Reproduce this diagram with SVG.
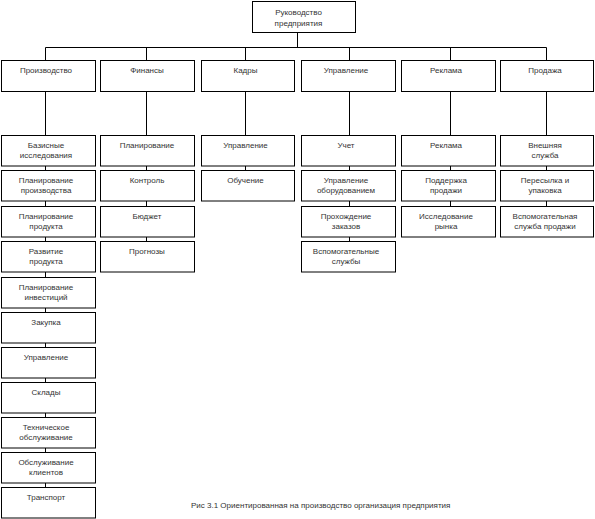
<svg xmlns="http://www.w3.org/2000/svg" width="595" height="519" viewBox="0 0 595 519">
<style>
rect{fill:#fff;stroke:#000;stroke-width:1}
line{stroke:#000;stroke-width:1}
text{font-family:"Liberation Sans",Arial,sans-serif;font-size:8px;fill:#333;text-anchor:middle}
.cap{text-anchor:start}
</style>
<rect x="0" y="0" width="595" height="519" style="stroke:none"/>
<g id="connectors">
<line x1="297.5" y1="32.5" x2="297.5" y2="47.5"/>
<line x1="45.5" y1="47.5" x2="546.5" y2="47.5"/>
<line x1="45.5" y1="47.5" x2="45.5" y2="60.5"/>
<line x1="146.5" y1="47.5" x2="146.5" y2="60.5"/>
<line x1="245.5" y1="47.5" x2="245.5" y2="60.5"/>
<line x1="349.5" y1="47.5" x2="349.5" y2="60.5"/>
<line x1="450.5" y1="47.5" x2="450.5" y2="60.5"/>
<line x1="546.5" y1="47.5" x2="546.5" y2="60.5"/>
<line x1="45.5" y1="91.5" x2="45.5" y2="487.5"/>
<line x1="146.5" y1="91.5" x2="146.5" y2="241.5"/>
<line x1="245.5" y1="91.5" x2="245.5" y2="170.5"/>
<line x1="349.5" y1="91.5" x2="349.5" y2="241.5"/>
<line x1="450.5" y1="91.5" x2="450.5" y2="206.5"/>
<line x1="546.5" y1="91.5" x2="546.5" y2="206.5"/>
</g>
<g id="head"><rect x="252.5" y="1.5" width="103" height="31"/><text x="298.5" y="14.5">Руководство</text><text x="298.5" y="25.5">предприятия</text></g>
<g id="c1"><rect x="1.5" y="60.5" width="94" height="31"/><text x="46" y="72.5">Производство</text></g>
<g id="c2"><rect x="100.5" y="60.5" width="94" height="31"/><text x="147" y="72.5">Финансы</text></g>
<g id="c3"><rect x="201.5" y="60.5" width="93" height="31"/><text x="245.5" y="72.5">Кадры</text></g>
<g id="c4"><rect x="301.5" y="60.5" width="94" height="31"/><text x="346" y="72.5">Управление</text></g>
<g id="c5"><rect x="401.5" y="60.5" width="94" height="31"/><text x="446" y="72.5">Реклама</text></g>
<g id="c6"><rect x="500.5" y="60.5" width="93" height="31"/><text x="545" y="72.5">Продажа</text></g>

<g id="p1"><rect x="1.5" y="135.5" width="94" height="30.5"/><text x="46" y="147.5">Базисные</text><text x="46" y="157.5">исследования</text></g>
<g id="p2"><rect x="1.5" y="170.5" width="94" height="30.5"/><text x="46" y="182.5">Планирование</text><text x="46" y="192.5">производства</text></g>
<g id="p3"><rect x="1.5" y="206.5" width="94" height="30.5"/><text x="46" y="218.5">Планирование</text><text x="46" y="228.5">продукта</text></g>
<g id="p4"><rect x="1.5" y="241.5" width="94" height="30.5"/><text x="46" y="253.5">Развитие</text><text x="46" y="263.5">продукта</text></g>
<g id="p5"><rect x="1.5" y="277.5" width="94" height="30.5"/><text x="46" y="289.5">Планирование</text><text x="46" y="299.5">инвестиций</text></g>
<g id="p6"><rect x="1.5" y="312.5" width="94" height="30.5"/><text x="46" y="324.5">Закупка</text></g>
<g id="p7"><rect x="1.5" y="347.5" width="94" height="30.5"/><text x="46" y="359.5">Управление</text></g>
<g id="p8"><rect x="1.5" y="382.5" width="94" height="30.5"/><text x="46" y="394.5">Склады</text></g>
<g id="p9"><rect x="1.5" y="417.5" width="94" height="30.5"/><text x="46" y="429.5">Техническое</text><text x="46" y="439.5">обслуживание</text></g>
<g id="p10"><rect x="1.5" y="452.5" width="94" height="30.5"/><text x="46" y="464.5">Обслуживание</text><text x="46" y="474.5">клиентов</text></g>
<g id="p11"><rect x="1.5" y="487.5" width="94" height="30.5"/><text x="46" y="499.5">Транспорт</text></g>

<g id="f1"><rect x="100.5" y="135.5" width="94" height="30.5"/><text x="147" y="147.5">Планирование</text></g>
<g id="f2"><rect x="100.5" y="170.5" width="94" height="30.5"/><text x="147" y="182.5">Контроль</text></g>
<g id="f3"><rect x="100.5" y="206.5" width="94" height="30.5"/><text x="147" y="218.5">Бюджет</text></g>
<g id="f4"><rect x="100.5" y="241.5" width="94" height="30.5"/><text x="147" y="253.5">Прогнозы</text></g>

<g id="k1"><rect x="201.5" y="135.5" width="93" height="30.5"/><text x="245.5" y="147.5">Управление</text></g>
<g id="k2"><rect x="201.5" y="170.5" width="93" height="30.5"/><text x="245.5" y="182.5">Обучение</text></g>

<g id="u1"><rect x="301.5" y="135.5" width="94" height="30.5"/><text x="346" y="147.5">Учет</text></g>
<g id="u2"><rect x="301.5" y="170.5" width="94" height="30.5"/><text x="346" y="182.5">Управление</text><text x="346" y="192.5">оборудованием</text></g>
<g id="u3"><rect x="301.5" y="206.5" width="94" height="30.5"/><text x="346" y="218.5">Прохождение</text><text x="346" y="228.5">заказов</text></g>
<g id="u4"><rect x="301.5" y="241.5" width="94" height="30.5"/><text x="346" y="253.5">Вспомогательные</text><text x="346" y="263.5">службы</text></g>

<g id="r1"><rect x="401.5" y="135.5" width="94" height="30.5"/><text x="446" y="147.5">Реклама</text></g>
<g id="r2"><rect x="401.5" y="170.5" width="94" height="30.5"/><text x="446" y="182.5">Поддержка</text><text x="446" y="192.5">продажи</text></g>
<g id="r3"><rect x="401.5" y="206.5" width="94" height="30.5"/><text x="446" y="218.5">Исследование</text><text x="446" y="228.5">рынка</text></g>

<g id="s1"><rect x="500.5" y="135.5" width="93" height="30.5"/><text x="545" y="147.5">Внешняя</text><text x="545" y="157.5">служба</text></g>
<g id="s2"><rect x="500.5" y="170.5" width="93" height="30.5"/><text x="545" y="182.5">Пересылка и</text><text x="545" y="192.5">упаковка</text></g>
<g id="s3"><rect x="500.5" y="206.5" width="93" height="30.5"/><text x="545" y="218.5">Вспомогательная</text><text x="545" y="228.5">служба продажи</text></g>

<text class="cap" x="191" y="508">Рис 3.1 Ориентированная на производство организация предприятия</text>
</svg>
